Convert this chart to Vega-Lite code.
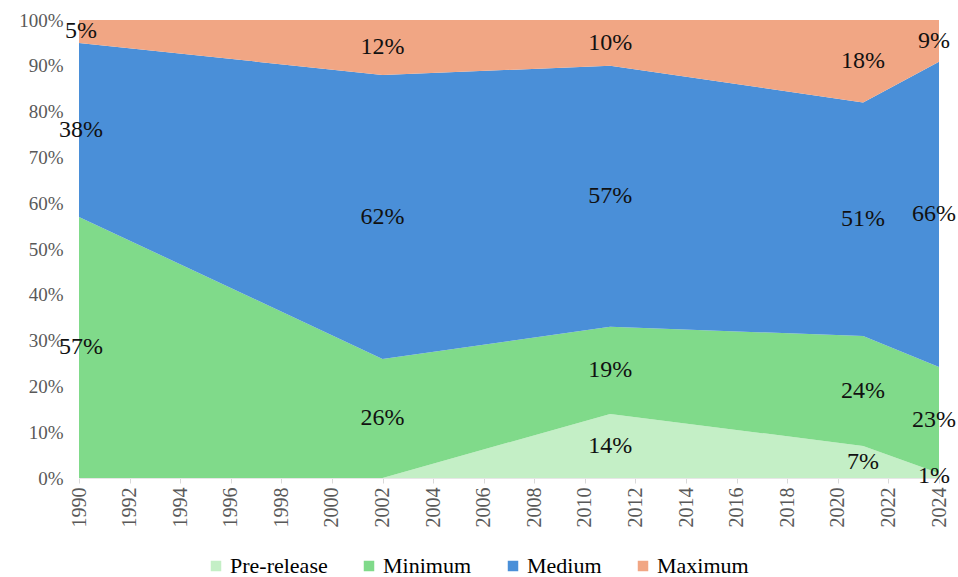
{
  "$schema": "https://vega.github.io/schema/vega-lite/v6.json",
  "width": 860,
  "height": 458,
  "autosize": "none",
  "padding": {"left": 79, "top": 20, "right": 19, "bottom": 99},
  "background": "white",
  "config": {"view": {"stroke": null}, "font": "Liberation Serif",
    "axis": {"labelFont": "Liberation Serif"},
    "legend": {"labelFont": "Liberation Serif"},
    "text": {"font": "Liberation Serif"}},
  "data": {"values": [
    {"year": 1990, "series": "Pre-release", "value": 0},
    {"year": 1990, "series": "Minimum", "value": 57},
    {"year": 1990, "series": "Medium", "value": 38},
    {"year": 1990, "series": "Maximum", "value": 5},
    {"year": 2002, "series": "Pre-release", "value": 0},
    {"year": 2002, "series": "Minimum", "value": 26},
    {"year": 2002, "series": "Medium", "value": 62},
    {"year": 2002, "series": "Maximum", "value": 12},
    {"year": 2011, "series": "Pre-release", "value": 14},
    {"year": 2011, "series": "Minimum", "value": 19},
    {"year": 2011, "series": "Medium", "value": 57},
    {"year": 2011, "series": "Maximum", "value": 10},
    {"year": 2021, "series": "Pre-release", "value": 7},
    {"year": 2021, "series": "Minimum", "value": 24},
    {"year": 2021, "series": "Medium", "value": 51},
    {"year": 2021, "series": "Maximum", "value": 18},
    {"year": 2024, "series": "Pre-release", "value": 1},
    {"year": 2024, "series": "Minimum", "value": 23},
    {"year": 2024, "series": "Medium", "value": 66},
    {"year": 2024, "series": "Maximum", "value": 9}
  ]},
  "transform": [
    {"stack": "value", "groupby": ["year"], "offset": "normalize", "sort": [{"field": "series", "order": "descending"}], "as": ["v0", "v1"]}
  ],
  "layer": [
    {
      "mark": {"type": "area", "opacity": 1},
      "encoding": {
        "x": {"field": "year", "type": "quantitative",
          "scale": {"domain": [1990, 2024], "nice": false, "zero": false},
          "axis": {"title": null, "values": [1990,1992,1994,1996,1998,2000,2002,2004,2006,2008,2010,2012,2014,2016,2018,2020,2022,2024],
            "format": "d", "labelAngle": -90, "labelAlign": "right", "labelBaseline": "middle",
            "labelFontSize": 20, "labelColor": "#595959", "labelFont": "Liberation Serif",
            "tickColor": "#d9d9d9", "tickSize": 5, "domainColor": "#e6e6e6", "grid": false, "labelPadding": 4}},
        "y": {"field": "v0", "type": "quantitative",
          "scale": {"domain": [0, 1], "nice": false},
          "axis": {"title": null, "format": ".0%", "values": [0,0.1,0.2,0.3,0.4,0.5,0.6,0.7,0.8,0.9,1],
            "labelFontSize": 19, "labelColor": "#595959", "labelFont": "Liberation Serif",
            "domain": false, "ticks": false, "grid": false, "labelPadding": 16}},
        "y2": {"field": "v1"},
        "color": {"field": "series", "type": "nominal",
          "scale": {"domain": ["Pre-release", "Minimum", "Medium", "Maximum"],
            "range": ["#c4efc6", "#80da8a", "#4a8fd8", "#f1a684"]},
          "legend": {"title": null, "orient": "none", "direction": "horizontal", "legendX": 126, "legendY": 535,
            "symbolType": "square", "symbolSize": 110, "symbolStrokeWidth": 0, "labelFontSize": 22,
            "labelFont": "Liberation Serif", "labelColor": "#000000", "columnPadding": 30, "labelOffset": 3}},
        "order": {"field": "series", "sort": "descending"}
      }
    },
    {
      "transform": [
        {"filter": "datum.value > 0"},
        {"calculate": "(datum.v0 + datum.v1) / 2", "as": "mid"},
        {"calculate": "datum.value + '%'", "as": "label"}
      ],
      "mark": {"type": "text", "fontSize": 24, "font": "Liberation Serif", "color": "#111111", "baseline": "middle", "align": "center",
        "dx": {"expr": "datum.year == 2024 ? -5 : (datum.year == 1990 ? 2 : 0)"}},
      "encoding": {
        "x": {"field": "year", "type": "quantitative"},
        "y": {"field": "mid", "type": "quantitative"},
        "text": {"field": "label"}
      }
    }
  ]
}
